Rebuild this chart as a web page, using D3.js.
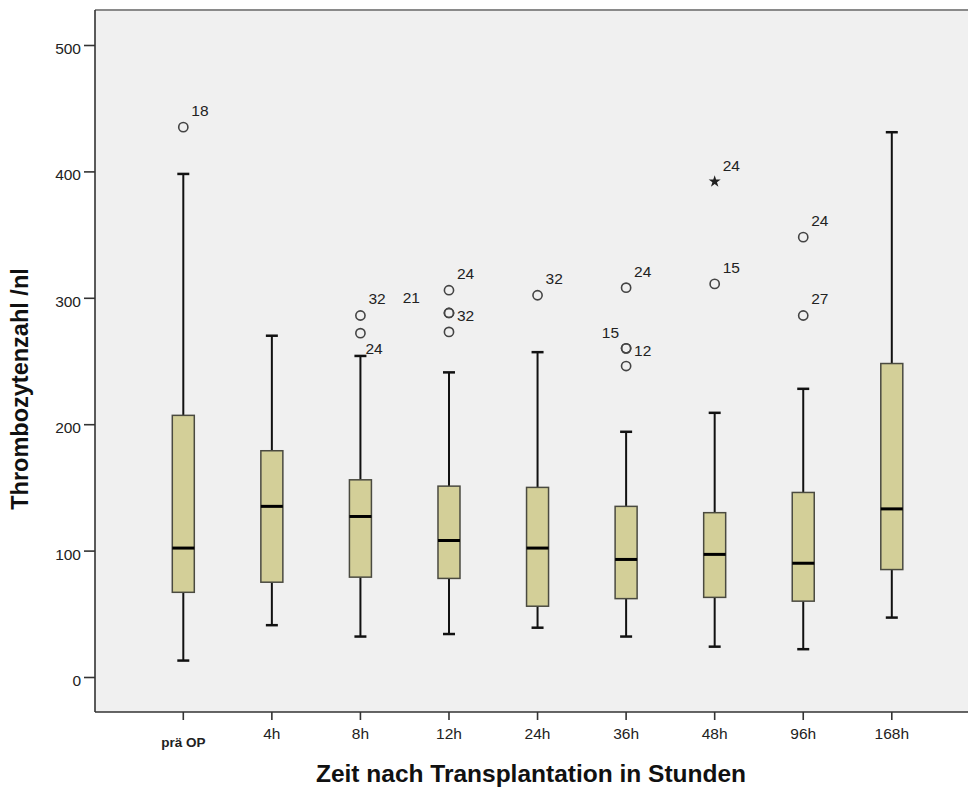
<!DOCTYPE html>
<html>
<head>
<meta charset="utf-8">
<script src="https://cdn.jsdelivr.net/npm/d3@7"></script>
<style>
  html, body { margin: 0; padding: 0; background: #ffffff; }
  svg { display: block; font-family: "Liberation Sans", Arial, sans-serif; }
</style>
</head>
<body>
<svg id="chart" width="968" height="787"></svg>
<script>
// Platelet counts per time point (box plot summaries)
const categories   = ["prä OP", "4h", "8h", "12h", "24h", "36h", "48h", "96h", "168h"];
const whiskerLow   = [13, 41, 32, 34, 39, 32, 24, 22, 47];
const quartile1    = [67, 75, 79, 78, 56, 62, 63, 60, 85];
const medians      = [102, 135, 127, 108, 102, 93, 97, 90, 133];
const quartile3    = [207, 179, 156, 151, 150, 135, 130, 146, 248];
const whiskerHigh  = [398, 270, 254, 241, 257, 194, 209, 228, 431];
const yTicks       = [0, 100, 200, 300, 400, 500];

// Outlying cases: category, value, case number, marker type
const outlierCat   = ["prä OP", "8h", "8h", "12h", "12h", "12h", "12h", "24h", "36h", "36h", "36h", "36h", "48h", "48h", "96h", "96h"];
const outlierVal   = [435, 286, 272, 306, 288, 288, 273, 302, 308, 260, 260, 246, 392, 311, 348, 286];
const outlierCase  = ["18", "32", "24", "24", "32", "21", "", "32", "24", "12", "15", "", "24", "15", "24", "27"];
const outlierKind  = ["o", "o", "o", "o", "o", "o", "o", "o", "o", "o", "o", "o", "*", "o", "o", "o"];

// Where each case number sits relative to its marker
const labelPlace = ["ne", "ne", "se", "ne", "e", "farw", "", "ne", "ne", "e", "nw", "", "ne", "ne", "ne", "ne"];
const placeOffset = {
  ne:   { dx: 8,   dy: -11, anchor: "start" },
  e:    { dx: 8,   dy: 8,   anchor: "start" },
  se:   { dx: 5,   dy: 21,  anchor: "start" },
  nw:   { dx: -7,  dy: -10, anchor: "end" },
  farw: { dx: -29, dy: -10, anchor: "end" }
};

const svg = d3.select("#chart");

const plot = { left: 95, top: 10, right: 968, bottom: 712 };

const y = d3.scaleLinear().domain([0, 500]).range([677, 45]);
const x = d3.scalePoint().domain(categories).range([183.3, 891.8]);

// Plot background
svg.append("rect")
  .attr("x", plot.left).attr("y", plot.top)
  .attr("width", plot.right - plot.left).attr("height", plot.bottom - plot.top)
  .attr("fill", "#f0f0f0");

// Frame: gray top, dark left and bottom
svg.append("line")
  .attr("x1", plot.left).attr("x2", plot.right)
  .attr("y1", plot.top).attr("y2", plot.top)
  .attr("stroke", "#8a8a8a").attr("stroke-width", 2);
svg.append("line")
  .attr("x1", plot.left).attr("x2", plot.left)
  .attr("y1", plot.top).attr("y2", plot.bottom)
  .attr("stroke", "#333").attr("stroke-width", 1.6);
svg.append("line")
  .attr("x1", plot.left).attr("x2", plot.right)
  .attr("y1", plot.bottom).attr("y2", plot.bottom)
  .attr("stroke", "#333").attr("stroke-width", 1.6);

// Y axis
const yAxis = d3.axisLeft(y).tickValues(yTicks).tickSize(11).tickPadding(3);
const yg = svg.append("g").attr("transform", `translate(${plot.left},0)`).call(yAxis);
yg.select(".domain").remove();
yg.selectAll(".tick line").attr("stroke", "#333").attr("stroke-width", 1.6);
yg.selectAll(".tick text")
  .attr("font-size", 15.5).attr("fill", "#222").attr("dy", "0.55em")
  .style("font-family", "'Liberation Sans', Arial, sans-serif");

// X axis ticks and labels
const xg = svg.append("g");
xg.selectAll("line.xt").data(categories).join("line")
  .attr("class", "xt")
  .attr("x1", d => x(d)).attr("x2", d => x(d))
  .attr("y1", plot.bottom).attr("y2", plot.bottom + 8)
  .attr("stroke", "#333").attr("stroke-width", 1.6);
xg.selectAll("text.xl").data(categories).join("text")
  .attr("class", "xl")
  .attr("x", d => x(d))
  .attr("y", (d, i) => i === 0 ? 747 : 739)
  .attr("text-anchor", "middle")
  .attr("font-size", (d, i) => i === 0 ? 13.5 : 15.5)
  .attr("font-weight", (d, i) => i === 0 ? "bold" : "normal")
  .attr("fill", "#222")
  .text(d => d);

// Axis titles
svg.append("text")
  .attr("x", 531).attr("y", 782)
  .attr("text-anchor", "middle")
  .attr("font-size", 24.5).attr("font-weight", "bold").attr("fill", "#111")
  .text("Zeit nach Transplantation in Stunden");
svg.append("text")
  .attr("transform", "translate(28,389) rotate(-90)")
  .attr("text-anchor", "middle")
  .attr("font-size", 23.5).attr("font-weight", "bold").attr("fill", "#111")
  .text("Thrombozytenzahl /nl");

// Boxes
const boxW = 22, capW = 12;
const boxes = svg.append("g");
categories.forEach((c, i) => {
  const cx = x(c);
  const g = boxes.append("g");
  // whiskers
  g.append("line")
    .attr("x1", cx).attr("x2", cx)
    .attr("y1", y(quartile3[i])).attr("y2", y(whiskerHigh[i]))
    .attr("stroke", "#111").attr("stroke-width", 2);
  g.append("line")
    .attr("x1", cx).attr("x2", cx)
    .attr("y1", y(quartile1[i])).attr("y2", y(whiskerLow[i]))
    .attr("stroke", "#111").attr("stroke-width", 2);
  // caps
  [whiskerHigh[i], whiskerLow[i]].forEach(v => {
    g.append("line")
      .attr("x1", cx - capW / 2).attr("x2", cx + capW / 2)
      .attr("y1", y(v)).attr("y2", y(v))
      .attr("stroke", "#111").attr("stroke-width", 2.5);
  });
  // box
  g.append("rect")
    .attr("x", cx - boxW / 2).attr("width", boxW)
    .attr("y", y(quartile3[i])).attr("height", y(quartile1[i]) - y(quartile3[i]))
    .attr("fill", "#d3cf98").attr("stroke", "#4a4a40").attr("stroke-width", 1.5);
  // median
  g.append("line")
    .attr("x1", cx - boxW / 2).attr("x2", cx + boxW / 2)
    .attr("y1", y(medians[i])).attr("y2", y(medians[i]))
    .attr("stroke", "#000").attr("stroke-width", 3);
});

// Outliers and extreme values
const outliers = outlierCat.map((c, i) => ({
  cat: c, value: outlierVal[i], label: outlierCase[i], kind: outlierKind[i], place: labelPlace[i]
}));
const og = svg.append("g");
og.selectAll("circle").data(outliers.filter(d => d.kind === "o")).join("circle")
  .attr("cx", d => x(d.cat)).attr("cy", d => y(d.value)).attr("r", 4.6)
  .attr("fill", "none").attr("stroke", "#444").attr("stroke-width", 1.6);
og.selectAll("path.star").data(outliers.filter(d => d.kind === "*")).join("path")
  .attr("class", "star")
  .attr("d", d3.symbol().type(d3.symbolStar).size(45))
  .attr("transform", d => `translate(${x(d.cat)},${y(d.value)})`)
  .attr("fill", "#222");
og.selectAll("text").data(outliers.filter(d => d.label)).join("text")
  .attr("x", d => x(d.cat) + placeOffset[d.place].dx)
  .attr("y", d => y(d.value) + placeOffset[d.place].dy)
  .attr("text-anchor", d => placeOffset[d.place].anchor)
  .attr("font-size", 15.5).attr("fill", "#222")
  .text(d => d.label);
</script>
</body>
</html>
